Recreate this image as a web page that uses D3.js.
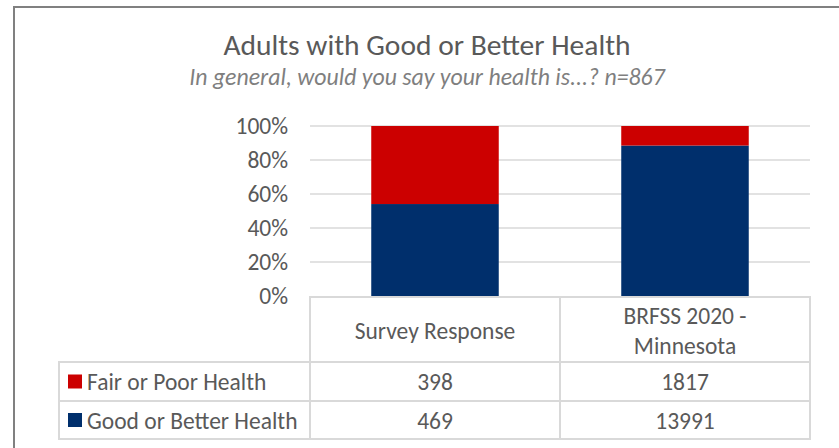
<!DOCTYPE html>
<html>
<head>
<meta charset="utf-8">
<script src="https://cdn.jsdelivr.net/npm/d3@7"></script>
<style>
  html, body { margin: 0; padding: 0; background: #fff; }
  svg { display: block; font-family: Carlito, Lato, "Open Sans", sans-serif; }
</style>
</head>
<body>
<svg id="chart" width="839" height="448"></svg>
<script>
// Chart data
const categories = ["Survey Response", "BRFSS 2020 - Minnesota"];
const categoryLines = [["Survey Response"], ["BRFSS 2020 -", "Minnesota"]];
const seriesNames = ["Good or Better Health", "Fair or Poor Health"];
const goodOrBetter = [469, 13991];
const fairOrPoor = [398, 1817];
const yTicks = [0, 0.2, 0.4, 0.6, 0.8, 1.0];
const colors = { "Good or Better Health": "#002F6C", "Fair or Poor Health": "#CC0000" };

const svg = d3.select("#chart");
const W = 839, H = 448;
const textColor = "#595959";
const lineColor = "#D9D9D9";
const fontSize = 23.5;

// Outer frame
svg.append("path")
  .attr("d", `M14,${H} L14,7 L${W},7`)
  .attr("fill", "none").attr("stroke", "#808080").attr("stroke-width", 2);

// Title
svg.append("text").attr("x", 427).attr("y", 55).attr("text-anchor", "middle")
  .attr("fill", textColor).attr("font-size", 29.5)
  .text("Adults with Good or Better Health");
svg.append("text").attr("x", 427).attr("y", 85).attr("text-anchor", "middle")
  .attr("fill", "#7F7F7F").attr("font-size", 23.8).attr("font-style", "italic")
  .text("In general, would you say your health is...? n=867");

// Scales
const plotLeft = 310, plotRight = 810;
const x = d3.scaleBand().domain(categories).range([plotLeft, plotRight])
  .paddingInner(0.49).paddingOuter(0.245);
const y = d3.scaleLinear().domain([0, 1]).range([296, 126]);

// Stacked (100%) data
const rows = categories.map((c, i) => {
  const total = goodOrBetter[i] + fairOrPoor[i];
  return { category: c,
    "Good or Better Health": goodOrBetter[i] / total,
    "Fair or Poor Health": fairOrPoor[i] / total };
});
const stack = d3.stack().keys(seriesNames)(rows);

// Gridlines
svg.append("g").selectAll("line").data(yTicks.filter(t => t > 0)).join("line")
  .attr("x1", plotLeft).attr("x2", plotRight)
  .attr("y1", d => y(d)).attr("y2", d => y(d))
  .attr("stroke", lineColor).attr("stroke-width", 1.3);

// Y axis labels
const yAxis = d3.axisLeft(y).tickValues(yTicks).tickFormat(d3.format(".0%")).tickSize(0).tickPadding(0);
const yg = svg.append("g").attr("transform", `translate(288,0)`).call(yAxis);
yg.select(".domain").remove();
yg.selectAll("text").attr("fill", textColor).attr("font-size", fontSize)
  .attr("font-family", "Carlito, Lato, 'Open Sans', sans-serif");

// Bars
svg.append("g").selectAll("g").data(stack).join("g")
  .attr("fill", d => colors[d.key])
  .selectAll("rect").data(d => d).join("rect")
  .attr("x", d => x(d.data.category))
  .attr("width", x.bandwidth())
  .attr("y", d => y(d[1]))
  .attr("height", d => y(d[0]) - y(d[1]));

// Data table
const tableTop = 297, headerBottom = 362, row1Bottom = 401, tableBottom = 439, legendLeft = 59;
const tg = svg.append("g").attr("stroke", lineColor).attr("stroke-width", 2).attr("fill", "none");
const hl = (x1, x2, yy) => tg.append("line").attr("x1", x1).attr("x2", x2).attr("y1", yy).attr("y2", yy);
const vl = (xx, y1, y2) => tg.append("line").attr("x1", xx).attr("x2", xx).attr("y1", y1).attr("y2", y2);
hl(plotLeft, plotRight, tableTop);
hl(legendLeft - 1, plotRight + 1, headerBottom);
hl(legendLeft - 1, plotRight + 1, row1Bottom);
hl(legendLeft - 1, plotRight + 1, tableBottom);
vl(plotLeft, tableTop - 1, tableBottom);
vl(plotLeft + x.step(), tableTop, tableBottom);
vl(plotRight, tableTop - 1, tableBottom);
vl(legendLeft, headerBottom, tableBottom);

// Header: category names
categories.forEach((c, i) => {
  const cx = x(c) + x.bandwidth() / 2;
  const lines = categoryLines[i];
  const t = svg.append("text").attr("text-anchor", "middle").attr("fill", textColor).attr("font-size", fontSize);
  const mid = (tableTop + headerBottom) / 2;
  lines.forEach((ln, j) => {
    t.append("tspan").attr("x", cx)
      .attr("y", mid + 9.5 + (j - (lines.length - 1) / 2) * 30)
      .text(ln);
  });
});

// Table rows: legend keys + values
const tableRows = [
  { name: "Fair or Poor Health", values: fairOrPoor, top: headerBottom, bottom: row1Bottom },
  { name: "Good or Better Health", values: goodOrBetter, top: row1Bottom, bottom: tableBottom }
];
tableRows.forEach(r => {
  const mid = (r.top + r.bottom) / 2;
  svg.append("rect").attr("x", 68).attr("y", mid - 7).attr("width", 14).attr("height", 14)
    .attr("fill", colors[r.name]);
  svg.append("text").attr("x", 87).attr("y", mid + 8.5).attr("fill", textColor).attr("font-size", fontSize)
    .text(r.name);
  r.values.forEach((v, i) => {
    svg.append("text").attr("x", x(categories[i]) + x.bandwidth() / 2).attr("y", mid + 8.5)
      .attr("text-anchor", "middle").attr("fill", textColor).attr("font-size", fontSize)
      .text(v);
  });
});
</script>
</body>
</html>
